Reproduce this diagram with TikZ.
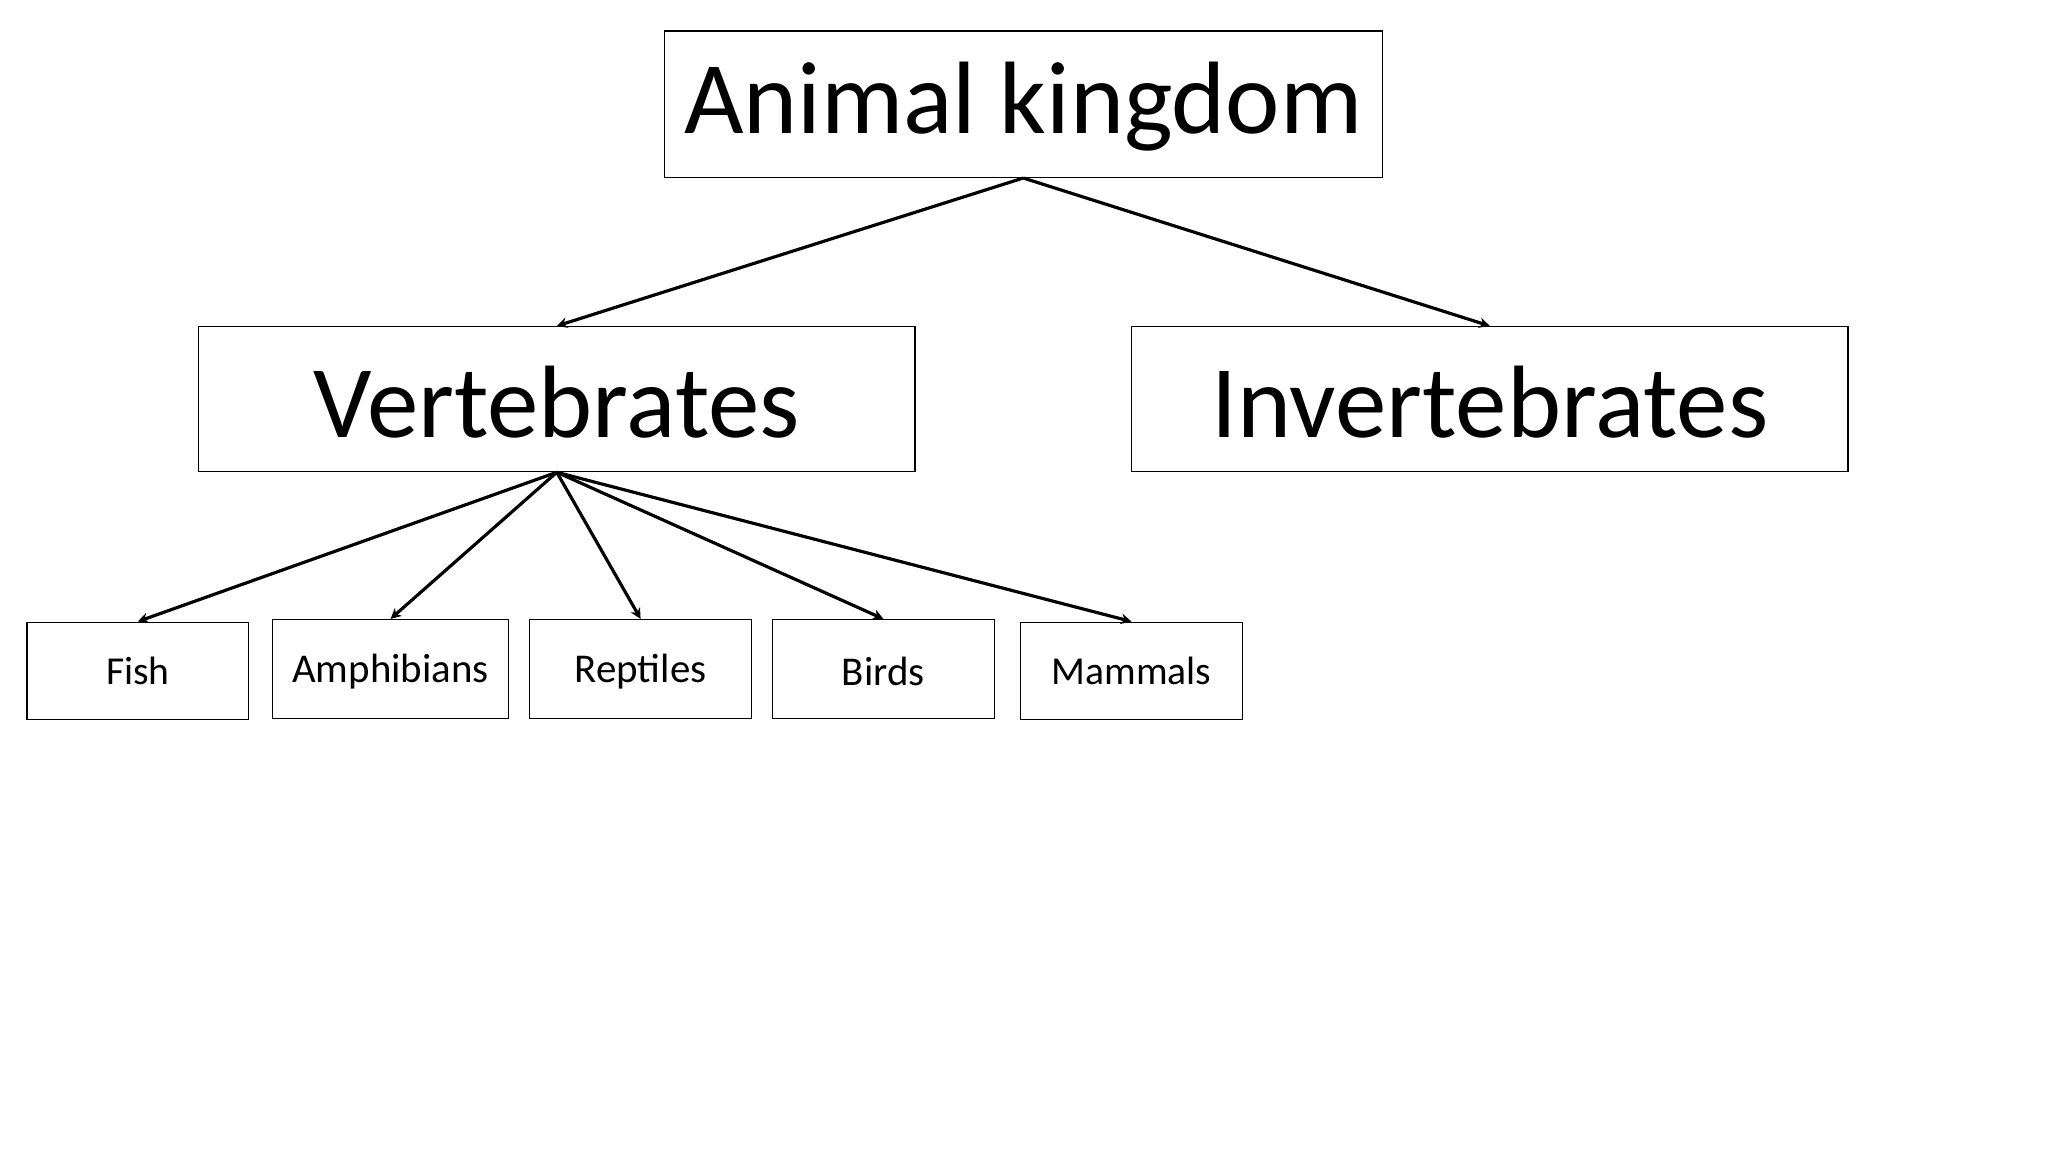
\documentclass[tikz,border=0pt]{standalone}
\usepackage{fontspec}
\setmainfont{Carlito}
\usetikzlibrary{arrows.meta}
\begin{document}
\begin{tikzpicture}[x=1pt,y=-1pt,
  box/.style={draw,line width=0.9pt,inner sep=0pt,anchor=north west},
  conn/.style={line width=2.4pt,-{Stealth[length=8pt,width=8pt]}}]
\useasboundingbox (0,0) rectangle (1552,873);
\newcommand{\bx}[6]{\node[box,minimum width=#4-#2,minimum height=#5-#3,font=\fontsize{#6}{#6}\selectfont] (#1) at (#2,#3) {};}
\bx{ak}{503}{23}{1047}{134}{78}
\bx{ve}{150}{247}{693}{357}{78}
\bx{iv}{857}{247}{1400}{357}{78}
\bx{fi}{20}{471}{188}{545}{30}
\bx{am}{206}{469}{385}{544}{31}
\bx{re}{401}{469}{569}{544}{31}
\bx{bi}{585}{469}{753}{544}{31}
\bx{ma}{773}{471}{941}{545}{30}
\node[font=\fontsize{78}{78}\selectfont] at ([yshift=-2pt]ak.center) {Animal kingdom};
\node[font=\fontsize{78}{78}\selectfont] at ([yshift=-2pt]ve.center) {Vertebrates};
\node[font=\fontsize{78}{78}\selectfont] at ([yshift=-2pt]iv.center) {Invertebrates};
\node[font=\fontsize{30}{30}\selectfont] at (fi.center) {Fish};
\node[font=\fontsize{31}{31}\selectfont] at ([yshift=-2pt]am.center) {Amphibians};
\node[font=\fontsize{31}{31}\selectfont] at ([yshift=-2pt]re.center) {Reptiles};
\node[font=\fontsize{31}{31}\selectfont] at ([yshift=-2pt]bi.center) {Birds};
\node[font=\fontsize{30}{30}\selectfont] at (ma.center) {Mammals};
\draw[conn] (ak.south) -- (ve.north);
\draw[conn] (ak.south) -- (iv.north);
\foreach \c in {fi,am,re,bi,ma} \draw[conn] (ve.south) -- (\c.north);
\end{tikzpicture}
\end{document}
